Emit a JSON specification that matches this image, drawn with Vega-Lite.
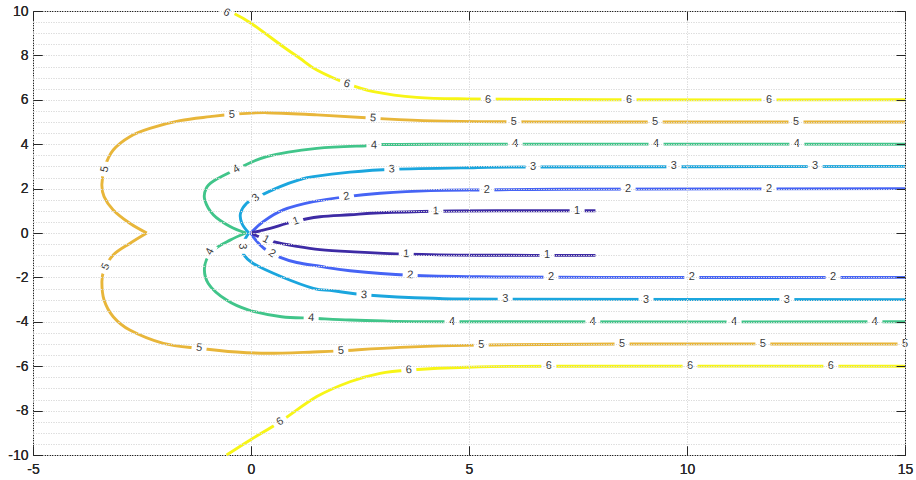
{
  "$schema": "https://vega.github.io/schema/vega-lite/v6.json",
  "width": 872,
  "height": 444,
  "autosize": "none",
  "padding": {"left": 33, "top": 11, "right": 11, "bottom": 25},
  "background": "white",
  "config": {
    "view": {"stroke": "#262626", "strokeWidth": 1},
    "axis": {"labelFont": "Liberation Sans", "labelFontSize": 14, "labelColor": "#262626", "tickColor": "#262626", "tickWidth": 1, "labelOverlap": false, "labelFlush": false}
  },
  "datasets": {
    "lines": [
      {"level": 6, "seg": "6u", "i": 0, "x": -0.4, "y": 9.9},
      {"level": 6, "seg": "6u", "i": 1, "x": 0, "y": 9.45},
      {"level": 6, "seg": "6u", "i": 2, "x": 0.74, "y": 8.39},
      {"level": 6, "seg": "6u", "i": 3, "x": 1.12, "y": 7.87},
      {"level": 6, "seg": "6u", "i": 4, "x": 1.51, "y": 7.34},
      {"level": 6, "seg": "6u", "i": 5, "x": 2.19, "y": 6.74},
      {"level": 6, "seg": "6u", "i": 6, "x": 2.81, "y": 6.37},
      {"level": 6, "seg": "6u", "i": 7, "x": 3.8, "y": 6.11},
      {"level": 6, "seg": "6u", "i": 8, "x": 4.95, "y": 6.04},
      {"level": 6, "seg": "6u", "i": 9, "x": 8, "y": 6.0},
      {"level": 6, "seg": "6u", "i": 10, "x": 15, "y": 6.0},
      {"level": 6, "seg": "6l", "i": 0, "x": -0.56, "y": -10},
      {"level": 6, "seg": "6l", "i": 1, "x": 0, "y": -9.3},
      {"level": 6, "seg": "6l", "i": 2, "x": 0.67, "y": -8.5},
      {"level": 6, "seg": "6l", "i": 3, "x": 1.51, "y": -7.37},
      {"level": 6, "seg": "6l", "i": 4, "x": 2.27, "y": -6.7},
      {"level": 6, "seg": "6l", "i": 5, "x": 2.96, "y": -6.32},
      {"level": 6, "seg": "6l", "i": 6, "x": 3.65, "y": -6.17},
      {"level": 6, "seg": "6l", "i": 7, "x": 4.95, "y": -6.05},
      {"level": 6, "seg": "6l", "i": 8, "x": 6.86, "y": -6.0},
      {"level": 6, "seg": "6l", "i": 9, "x": 15, "y": -6.0},
      {"level": 5, "seg": "5u", "i": 0, "x": 15, "y": 5.0},
      {"level": 5, "seg": "5u", "i": 1, "x": 8, "y": 5.0},
      {"level": 5, "seg": "5u", "i": 2, "x": 6.02, "y": 5.01},
      {"level": 5, "seg": "5u", "i": 3, "x": 4.18, "y": 5.05},
      {"level": 5, "seg": "5u", "i": 4, "x": 2.81, "y": 5.17},
      {"level": 5, "seg": "5u", "i": 5, "x": 1.51, "y": 5.32},
      {"level": 5, "seg": "5u", "i": 6, "x": 0.36, "y": 5.42},
      {"level": 5, "seg": "5u", "i": 7, "x": -0.41, "y": 5.35},
      {"level": 5, "seg": "5u", "i": 8, "x": -0.94, "y": 5.24},
      {"level": 5, "seg": "5u", "i": 9, "x": -1.63, "y": 5.06},
      {"level": 5, "seg": "5u", "i": 10, "x": -2.32, "y": 4.71},
      {"level": 5, "seg": "5u", "i": 11, "x": -2.78, "y": 4.34},
      {"level": 5, "seg": "5u", "i": 12, "x": -3.16, "y": 3.74},
      {"level": 5, "seg": "5u", "i": 13, "x": -3.35, "y": 2.99},
      {"level": 5, "seg": "5u", "i": 14, "x": -3.42, "y": 2.2},
      {"level": 5, "seg": "5u", "i": 15, "x": -3.37, "y": 1.64},
      {"level": 5, "seg": "5u", "i": 16, "x": -3.16, "y": 1.04},
      {"level": 5, "seg": "5u", "i": 17, "x": -2.78, "y": 0.44},
      {"level": 5, "seg": "5u", "i": 18, "x": -2.39, "y": 0},
      {"level": 5, "seg": "5l", "i": 0, "x": -2.39, "y": 0},
      {"level": 5, "seg": "5l", "i": 1, "x": -2.78, "y": -0.47},
      {"level": 5, "seg": "5l", "i": 2, "x": -3.16, "y": -0.99},
      {"level": 5, "seg": "5l", "i": 3, "x": -3.37, "y": -1.67},
      {"level": 5, "seg": "5l", "i": 4, "x": -3.42, "y": -2.2},
      {"level": 5, "seg": "5l", "i": 5, "x": -3.37, "y": -3.02},
      {"level": 5, "seg": "5l", "i": 6, "x": -3.16, "y": -3.77},
      {"level": 5, "seg": "5l", "i": 7, "x": -2.78, "y": -4.37},
      {"level": 5, "seg": "5l", "i": 8, "x": -2.01, "y": -4.97},
      {"level": 5, "seg": "5l", "i": 9, "x": -1.17, "y": -5.2},
      {"level": 5, "seg": "5l", "i": 10, "x": -0.33, "y": -5.36},
      {"level": 5, "seg": "5l", "i": 11, "x": 0.4, "y": -5.42},
      {"level": 5, "seg": "5l", "i": 12, "x": 1.43, "y": -5.36},
      {"level": 5, "seg": "5l", "i": 13, "x": 2.04, "y": -5.31},
      {"level": 5, "seg": "5l", "i": 14, "x": 3.42, "y": -5.15},
      {"level": 5, "seg": "5l", "i": 15, "x": 5.25, "y": -5.05},
      {"level": 5, "seg": "5l", "i": 16, "x": 8.46, "y": -5.0},
      {"level": 5, "seg": "5l", "i": 17, "x": 15, "y": -5.0},
      {"level": 4, "seg": "4u", "i": 0, "x": 15, "y": 4.0},
      {"level": 4, "seg": "4u", "i": 1, "x": 4.18, "y": 4.0},
      {"level": 4, "seg": "4u", "i": 2, "x": 2.65, "y": 3.93},
      {"level": 4, "seg": "4u", "i": 3, "x": 1.51, "y": 3.81},
      {"level": 4, "seg": "4u", "i": 4, "x": 0.36, "y": 3.44},
      {"level": 4, "seg": "4u", "i": 5, "x": -0.33, "y": 2.87},
      {"level": 4, "seg": "4u", "i": 6, "x": -0.85, "y": 2.35},
      {"level": 4, "seg": "4u", "i": 7, "x": -1.03, "y": 2.0},
      {"level": 4, "seg": "4u", "i": 8, "x": -1.06, "y": 1.49},
      {"level": 4, "seg": "4u", "i": 9, "x": -0.86, "y": 0.81},
      {"level": 4, "seg": "4u", "i": 10, "x": -0.48, "y": 0.29},
      {"level": 4, "seg": "4u", "i": 11, "x": -0.12, "y": 0},
      {"level": 4, "seg": "4l", "i": 0, "x": -0.12, "y": 0},
      {"level": 4, "seg": "4l", "i": 1, "x": -0.48, "y": -0.32},
      {"level": 4, "seg": "4l", "i": 2, "x": -0.86, "y": -0.77},
      {"level": 4, "seg": "4l", "i": 3, "x": -1.06, "y": -1.45},
      {"level": 4, "seg": "4l", "i": 4, "x": -0.98, "y": -2.27},
      {"level": 4, "seg": "4l", "i": 5, "x": -0.56, "y": -3.02},
      {"level": 4, "seg": "4l", "i": 6, "x": -0.05, "y": -3.47},
      {"level": 4, "seg": "4l", "i": 7, "x": 0.7, "y": -3.77},
      {"level": 4, "seg": "4l", "i": 8, "x": 1.43, "y": -3.84},
      {"level": 4, "seg": "4l", "i": 9, "x": 2.27, "y": -3.92},
      {"level": 4, "seg": "4l", "i": 10, "x": 3.03, "y": -3.96},
      {"level": 4, "seg": "4l", "i": 11, "x": 4.6, "y": -4.0},
      {"level": 4, "seg": "4l", "i": 12, "x": 15, "y": -4.0},
      {"level": 3, "seg": "3u", "i": 0, "x": 15, "y": 3.0},
      {"level": 3, "seg": "3u", "i": 1, "x": 6.47, "y": 2.97},
      {"level": 3, "seg": "3u", "i": 2, "x": 4.95, "y": 2.94},
      {"level": 3, "seg": "3u", "i": 3, "x": 3.26, "y": 2.87},
      {"level": 3, "seg": "3u", "i": 4, "x": 2.27, "y": 2.74},
      {"level": 3, "seg": "3u", "i": 5, "x": 1.43, "y": 2.54},
      {"level": 3, "seg": "3u", "i": 6, "x": 1.12, "y": 2.4},
      {"level": 3, "seg": "3u", "i": 7, "x": 0.67, "y": 2.09},
      {"level": 3, "seg": "3u", "i": 8, "x": 0.13, "y": 1.6},
      {"level": 3, "seg": "3u", "i": 9, "x": -0.1, "y": 1.34},
      {"level": 3, "seg": "3u", "i": 10, "x": -0.24, "y": 0.89},
      {"level": 3, "seg": "3u", "i": 11, "x": -0.21, "y": 0.44},
      {"level": 3, "seg": "3u", "i": 12, "x": -0.05, "y": 0},
      {"level": 3, "seg": "3l", "i": 0, "x": -0.05, "y": 0},
      {"level": 3, "seg": "3l", "i": 1, "x": -0.18, "y": -0.47},
      {"level": 3, "seg": "3l", "i": 2, "x": -0.18, "y": -0.92},
      {"level": 3, "seg": "3l", "i": 3, "x": 0.05, "y": -1.37},
      {"level": 3, "seg": "3l", "i": 4, "x": 0.7, "y": -1.97},
      {"level": 3, "seg": "3l", "i": 5, "x": 1.43, "y": -2.49},
      {"level": 3, "seg": "3l", "i": 6, "x": 1.89, "y": -2.6},
      {"level": 3, "seg": "3l", "i": 7, "x": 2.65, "y": -2.79},
      {"level": 3, "seg": "3l", "i": 8, "x": 4.18, "y": -2.94},
      {"level": 3, "seg": "3l", "i": 9, "x": 5.71, "y": -2.98},
      {"level": 3, "seg": "3l", "i": 10, "x": 15, "y": -3.0},
      {"level": 2, "seg": "2u", "i": 0, "x": 15, "y": 2.0},
      {"level": 2, "seg": "2u", "i": 1, "x": 7.16, "y": 1.97},
      {"level": 2, "seg": "2u", "i": 2, "x": 5.41, "y": 1.94},
      {"level": 2, "seg": "2u", "i": 3, "x": 4.11, "y": 1.91},
      {"level": 2, "seg": "2u", "i": 4, "x": 2.96, "y": 1.79},
      {"level": 2, "seg": "2u", "i": 5, "x": 2.19, "y": 1.64},
      {"level": 2, "seg": "2u", "i": 6, "x": 1.43, "y": 1.41},
      {"level": 2, "seg": "2u", "i": 7, "x": 0.74, "y": 1.04},
      {"level": 2, "seg": "2u", "i": 8, "x": 0.28, "y": 0.51},
      {"level": 2, "seg": "2u", "i": 9, "x": 0, "y": 0},
      {"level": 2, "seg": "2l", "i": 0, "x": 0, "y": 0},
      {"level": 2, "seg": "2l", "i": 1, "x": 0.1, "y": -0.3},
      {"level": 2, "seg": "2l", "i": 2, "x": 0.3, "y": -0.7},
      {"level": 2, "seg": "2l", "i": 3, "x": 0.67, "y": -1.1},
      {"level": 2, "seg": "2l", "i": 4, "x": 1.05, "y": -1.33},
      {"level": 2, "seg": "2l", "i": 5, "x": 1.58, "y": -1.5},
      {"level": 2, "seg": "2l", "i": 6, "x": 2.27, "y": -1.7},
      {"level": 2, "seg": "2l", "i": 7, "x": 3.65, "y": -1.9},
      {"level": 2, "seg": "2l", "i": 8, "x": 5.25, "y": -1.97},
      {"level": 2, "seg": "2l", "i": 9, "x": 8, "y": -2.0},
      {"level": 2, "seg": "2l", "i": 10, "x": 15, "y": -2.0},
      {"level": 1, "seg": "1u", "i": 0, "x": 7.9, "y": 1.0},
      {"level": 1, "seg": "1u", "i": 1, "x": 5.64, "y": 1.0},
      {"level": 1, "seg": "1u", "i": 2, "x": 4.26, "y": 0.98},
      {"level": 1, "seg": "1u", "i": 3, "x": 2.96, "y": 0.91},
      {"level": 1, "seg": "1u", "i": 4, "x": 2.27, "y": 0.82},
      {"level": 1, "seg": "1u", "i": 5, "x": 1.58, "y": 0.73},
      {"level": 1, "seg": "1u", "i": 6, "x": 0.95, "y": 0.5},
      {"level": 1, "seg": "1u", "i": 7, "x": 0.44, "y": 0.21},
      {"level": 1, "seg": "1u", "i": 8, "x": 0, "y": 0},
      {"level": 1, "seg": "1l", "i": 0, "x": 0, "y": 0},
      {"level": 1, "seg": "1l", "i": 1, "x": 0.21, "y": -0.19},
      {"level": 1, "seg": "1l", "i": 2, "x": 0.51, "y": -0.39},
      {"level": 1, "seg": "1l", "i": 3, "x": 1.05, "y": -0.6},
      {"level": 1, "seg": "1l", "i": 4, "x": 1.58, "y": -0.75},
      {"level": 1, "seg": "1l", "i": 5, "x": 2.27, "y": -0.84},
      {"level": 1, "seg": "1l", "i": 6, "x": 3.57, "y": -0.95},
      {"level": 1, "seg": "1l", "i": 7, "x": 5.25, "y": -1.0},
      {"level": 1, "seg": "1l", "i": 8, "x": 7.9, "y": -1.01}
    ],
    "labels": [
      {"level": 6, "x": -0.56, "y": 9.92, "a": 28},
      {"level": 6, "x": 2.2, "y": 6.71, "a": 17},
      {"level": 6, "x": 5.44, "y": 6.0, "a": 0},
      {"level": 6, "x": 8.67, "y": 6.0, "a": 0},
      {"level": 6, "x": 11.88, "y": 6.0, "a": 0},
      {"level": 6, "x": 0.67, "y": -8.51, "a": -33},
      {"level": 6, "x": 3.62, "y": -6.18, "a": -5},
      {"level": 6, "x": 6.83, "y": -6.0, "a": 0},
      {"level": 6, "x": 10.07, "y": -6.0, "a": 0},
      {"level": 6, "x": 13.3, "y": -6.0, "a": 0},
      {"level": 5, "x": -0.44, "y": 5.33, "a": -4},
      {"level": 5, "x": 2.8, "y": 5.17, "a": 4},
      {"level": 5, "x": 6.03, "y": 5.0, "a": 0},
      {"level": 5, "x": 9.27, "y": 5.0, "a": 0},
      {"level": 5, "x": 12.5, "y": 5.0, "a": 0},
      {"level": 5, "x": -3.35, "y": 2.88, "a": -78},
      {"level": 5, "x": -3.33, "y": -1.52, "a": -65},
      {"level": 5, "x": -1.19, "y": -5.18, "a": 8},
      {"level": 5, "x": 2.06, "y": -5.31, "a": -3},
      {"level": 5, "x": 5.28, "y": -5.04, "a": 0},
      {"level": 5, "x": 8.51, "y": -5.0, "a": 0},
      {"level": 5, "x": 11.74, "y": -5.0, "a": 0},
      {"level": 5, "x": 15.0, "y": -5.0, "a": 0},
      {"level": 4, "x": -0.33, "y": 2.87, "a": -32},
      {"level": 4, "x": 2.82, "y": 3.94, "a": -1},
      {"level": 4, "x": 6.06, "y": 4.0, "a": 0},
      {"level": 4, "x": 9.29, "y": 4.0, "a": 0},
      {"level": 4, "x": 12.52, "y": 4.0, "a": 0},
      {"level": 4, "x": -0.94, "y": -0.84, "a": -62},
      {"level": 4, "x": 1.38, "y": -3.83, "a": 3},
      {"level": 4, "x": 4.61, "y": -4.0, "a": 0},
      {"level": 4, "x": 7.84, "y": -4.0, "a": 0},
      {"level": 4, "x": 11.08, "y": -4.0, "a": 0},
      {"level": 4, "x": 14.31, "y": -4.0, "a": 0},
      {"level": 3, "x": 0.11, "y": 1.58, "a": -40},
      {"level": 3, "x": 3.23, "y": 2.87, "a": -2},
      {"level": 3, "x": 6.47, "y": 2.97, "a": 0},
      {"level": 3, "x": 9.7, "y": 3.0, "a": 0},
      {"level": 3, "x": 12.94, "y": 3.0, "a": 0},
      {"level": 3, "x": -0.2, "y": -0.6, "a": 90},
      {"level": 3, "x": 2.59, "y": -2.8, "a": 3},
      {"level": 3, "x": 5.83, "y": -2.97, "a": 0},
      {"level": 3, "x": 9.06, "y": -3.0, "a": 0},
      {"level": 3, "x": 12.29, "y": -3.0, "a": 0},
      {"level": 2, "x": 2.19, "y": 1.64, "a": -10},
      {"level": 2, "x": 5.41, "y": 1.94, "a": 0},
      {"level": 2, "x": 8.65, "y": 1.98, "a": 0},
      {"level": 2, "x": 11.88, "y": 2.0, "a": 0},
      {"level": 2, "x": 0.48, "y": -0.93, "a": 32},
      {"level": 2, "x": 3.65, "y": -1.9, "a": 3},
      {"level": 2, "x": 6.88, "y": -2.0, "a": 0},
      {"level": 2, "x": 10.11, "y": -2.0, "a": 0},
      {"level": 2, "x": 13.35, "y": -2.0, "a": 0},
      {"level": 1, "x": 1.03, "y": 0.53, "a": -18},
      {"level": 1, "x": 4.24, "y": 0.98, "a": -1},
      {"level": 1, "x": 7.48, "y": 1.0, "a": 0},
      {"level": 1, "x": 0.34, "y": -0.29, "a": 28},
      {"level": 1, "x": 3.56, "y": -0.95, "a": 2},
      {"level": 1, "x": 6.79, "y": -1.0, "a": 0}
    ]
  },
  "encoding": {
    "x": {
      "field": "x", "type": "quantitative",
      "scale": {"domain": [-5, 15], "nice": false, "zero": false},
      "axis": {"orient": "bottom", "title": null, "values": [-5, 0, 5, 10, 15], "grid": true, "gridDash": [1, 1.5], "gridColor": "#dadada", "domain": false, "tickSize": -9, "labelPadding": 16, "labelExpr": "'' + datum.value", "zindex": 1}
    },
    "y": {
      "field": "y", "type": "quantitative",
      "scale": {"domain": [-10, 10], "nice": false, "zero": false},
      "axis": {"orient": "left", "title": null,
        "values": [-10, -9.5, -9, -8.5, -8, -7.5, -7, -6.5, -6, -5.5, -5, -4.5, -4, -3.5, -3, -2.5, -2, -1.5, -1, -0.5, 0, 0.5, 1, 1.5, 2, 2.5, 3, 3.5, 4, 4.5, 5, 5.5, 6, 6.5, 7, 7.5, 8, 8.5, 9, 9.5, 10],
        "grid": true, "gridDash": [1, 1.5], "gridColor": "#dadada", "domain": false, "tickSize": -9, "labelPadding": 14,
        "tickOpacity": {"condition": {"test": "datum.value % 2 === 0", "value": 1}, "value": 0},
        "labelExpr": "datum.value % 2 === 0 ? '' + datum.value : ''", "zindex": 1}
    }
  },
  "layer": [
    {
      "data": {"name": "lines"},
      "mark": {"type": "line", "strokeWidth": 2.9, "interpolate": "cardinal"},
      "encoding": {
        "color": {"field": "level", "type": "nominal", "scale": {"domain": [1, 2, 3, 4, 5, 6], "range": ["#3e2ba5", "#4664f5", "#1ba6de", "#41c58a", "#e8b63a", "#f7f516"]}, "legend": null},
        "detail": {"field": "seg"},
        "order": {"field": "i", "type": "quantitative"}
      }
    },
    {
      "data": {"name": "labels"},
      "mark": {"type": "point", "shape": "M-1,-0.65H1V0.65H-1Z", "size": 225, "filled": true, "fill": "white", "opacity": 1, "strokeWidth": 0},
      "encoding": {
        "x": {"field": "x", "type": "quantitative", "axis": {"orient": "top", "title": null, "values": [-5, 0, 5, 10, 15], "labels": false, "grid": false, "domain": false, "tickSize": -9, "zindex": 1}},
        "y": {"field": "y", "type": "quantitative", "axis": {"orient": "right", "title": null, "values": [-10, -8, -6, -4, -2, 0, 2, 4, 6, 8, 10], "labels": false, "grid": false, "domain": false, "tickSize": -9, "zindex": 1}},
        "angle": {"field": "a", "type": "quantitative", "scale": null}
      }
    },
    {
      "data": {"name": "labels"},
      "mark": {"type": "text", "font": "Liberation Sans", "fontSize": 11, "fill": "#3a3a3a", "align": "center", "baseline": "middle"},
      "encoding": {
        "text": {"field": "level", "type": "nominal"},
        "angle": {"field": "a", "type": "quantitative", "scale": null}
      }
    }
  ]
}
